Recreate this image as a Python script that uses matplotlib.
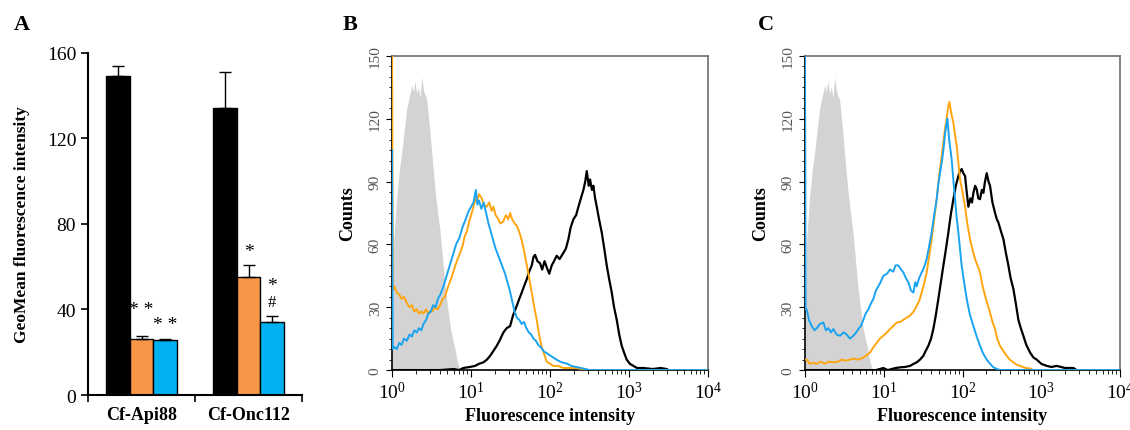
import numpy as np
import matplotlib
matplotlib.use('Agg')
from matplotlib import pyplot as plt
from matplotlib.ticker import MultipleLocator, LogLocator, NullFormatter

plt.rcParams['font.family'] = ['Liberation Serif', 'DejaVu Serif']
plt.rcParams['mathtext.fontset'] = 'stix'

# panel A: GeoMean fluorescence intensity
groups = ['Cf-Api88', 'Cf-Onc112']
bar_black = [149, 134]
bar_black_err = [5, 17]
bar_orange = [26, 55]
bar_orange_err = [1.5, 6]
bar_blue = [25.5, 34]
bar_blue_err = [0.6, 3]

# panel B / C histograms: log10 channel position, counts
gray_x = [0.0, 0.017, 0.059, 0.09, 0.122, 0.155, 0.186, 0.22, 0.25, 0.27, 0.29, 0.31, 0.333, 0.355, 0.375,
          0.40, 0.42, 0.439, 0.46, 0.481, 0.51, 0.544, 0.575, 0.608, 0.64, 0.671, 0.70, 0.734, 0.765, 0.797,
          0.82, 0.84, 0.86]
gray_y = [0, 60, 83, 95, 104, 115, 125, 131, 136, 133, 138, 132, 135, 130, 140,
          133, 131, 129, 121, 113, 100, 86, 76, 66, 53, 40, 31, 21, 15, 10,
          5, 2, 0]

b_orange_x = [0, 0.008, 0.03, 0.059, 0.09, 0.12, 0.15, 0.186, 0.22, 0.25, 0.28, 0.312, 0.34, 0.37, 0.397,
              0.43, 0.46, 0.481, 0.51, 0.54, 0.575, 0.608, 0.64, 0.67, 0.692, 0.72, 0.75, 0.776, 0.80, 0.83,
              0.861, 0.89, 0.92, 0.945, 0.97, 1.0, 1.03, 1.05, 1.071, 1.10, 1.135, 1.16, 1.198, 1.23, 1.26,
              1.283, 1.31, 1.346, 1.37, 1.409, 1.44, 1.47, 1.494, 1.52, 1.55, 1.578, 1.61, 1.641, 1.67, 1.705,
              1.735, 1.768, 1.80, 1.831, 1.86, 1.895, 1.93, 1.958, 2.0, 2.042, 2.1, 2.169, 2.25, 2.338, 2.4,
              2.464, 4.0]
b_orange_y = [150, 38, 40, 37, 36, 34, 35, 32, 30, 31, 28, 29, 27, 28, 27,
              29, 27, 28, 28, 30, 29, 31, 34, 35, 38, 41, 44, 47, 50, 53,
              56, 59, 64, 66, 70, 74, 78, 82, 80, 84, 82, 79, 78, 80, 76,
              78, 74, 72, 70, 71, 74, 72, 75, 72, 70, 69, 66, 62, 57, 50,
              44, 37, 30, 24, 17, 11, 7, 4, 3, 2, 2, 1, 1, 1, 0.5,
              0, 0]

b_blue_x = [0, 0.008, 0.03, 0.059, 0.09, 0.12, 0.15, 0.186, 0.22, 0.25, 0.28, 0.312, 0.34, 0.37, 0.397,
            0.43, 0.46, 0.49, 0.52, 0.55, 0.58, 0.61, 0.65, 0.69, 0.73, 0.77, 0.81, 0.85, 0.89, 0.93,
            0.97, 1.0, 1.03, 1.06, 1.08, 1.10, 1.13, 1.16, 1.19, 1.22, 1.25, 1.28, 1.31, 1.34, 1.37,
            1.40, 1.43, 1.46, 1.49, 1.52, 1.55, 1.58, 1.61, 1.64, 1.67, 1.70, 1.73, 1.76, 1.79, 1.82,
            1.85, 1.88, 1.92, 1.96, 2.0, 2.04, 2.08, 2.13, 2.17, 2.22, 2.27, 2.33, 2.39, 2.45, 2.5, 4.0]
b_blue_y = [105, 10, 11, 10, 13, 12, 15, 14, 17, 16, 19, 18, 20, 19, 22,
            24, 27, 28, 31, 30, 34, 36, 40, 45, 50, 55, 60, 63, 68, 72,
            76, 78, 80, 86, 79, 81, 77, 80, 75, 70, 66, 62, 58, 55, 52,
            49, 46, 42, 38, 33, 28, 25, 24, 22, 23, 20, 18, 17, 15, 14,
            12, 11, 9, 8, 7, 6, 5, 4, 3.5, 3, 2, 1.5, 1, 0.5, 0, 0]

b_black_x = [0, 0.6, 0.78, 0.85, 0.9, 0.987, 1.05, 1.1, 1.156, 1.2, 1.241, 1.28, 1.325, 1.36, 1.409,
             1.45, 1.494, 1.53, 1.578, 1.61, 1.641, 1.67, 1.705, 1.735, 1.768, 1.79, 1.81, 1.84, 1.873, 1.90,
             1.93, 1.958, 1.99, 2.021, 2.05, 2.084, 2.12, 2.169, 2.2, 2.232, 2.26, 2.295, 2.33, 2.359, 2.39,
             2.422, 2.445, 2.464, 2.49, 2.506, 2.53, 2.548, 2.57, 2.591, 2.62, 2.654, 2.69, 2.717, 2.75, 2.781,
             2.81, 2.844, 2.875, 2.907, 2.94, 2.97, 3.01, 3.055, 3.1, 3.181, 3.3, 3.4, 3.477, 3.5]
b_black_y = [0, 0, 0.5, 0, 1, 1.5, 2, 3, 3.7, 5, 6.8, 9, 11.6, 14, 18,
             20, 21, 26, 30.7, 34, 37, 40, 43.4, 47, 50, 54, 55, 52, 51, 48,
             52, 49, 46, 50, 52, 54.6, 53, 56, 58, 62.5, 68, 72, 74, 78, 82,
             86, 90, 95, 88, 91, 86, 88, 82, 78, 72, 65.7, 57, 50, 43, 37,
             30, 24, 17, 11.6, 8, 5, 3, 2, 1, 1, 0.5, 1, 0.5, 0]

c_blue_x = [0, 0.008, 0.021, 0.05, 0.085, 0.12, 0.148, 0.19, 0.233, 0.265, 0.296, 0.33, 0.36, 0.40, 0.444,
            0.49, 0.529, 0.57, 0.614, 0.65, 0.677, 0.71, 0.741, 0.77, 0.804, 0.84, 0.868, 0.90, 0.931, 0.96,
            0.995, 1.04, 1.079, 1.12, 1.15, 1.185, 1.22, 1.249, 1.28, 1.312, 1.345, 1.376, 1.40, 1.418, 1.45,
            1.481, 1.51, 1.545, 1.575, 1.608, 1.64, 1.672, 1.69, 1.714, 1.74, 1.76, 1.778, 1.795, 1.808, 1.83,
            1.862, 1.885, 1.905, 1.925, 1.947, 1.97, 1.989, 2.02, 2.053, 2.09, 2.138, 2.18, 2.222, 2.26, 2.307,
            2.35, 2.392, 2.44, 2.476, 4.0]
c_blue_y = [150, 29, 29, 24, 21, 19, 20, 22, 22.7, 19, 20, 18, 19.6, 17, 16.4,
            18, 17, 15, 16.4, 18, 19.6, 21, 24, 27, 29, 32, 34, 38, 40, 42,
            45, 46, 48, 47, 50, 50, 48, 46.6, 44, 42, 38, 37, 42, 40, 44,
            46.6, 49, 53, 59, 65.7, 74, 81.6, 88, 94, 100, 106, 113, 117, 120, 110,
            100.7, 90, 81.6, 73, 65.7, 57, 50, 42, 34, 27, 21, 16, 11.6, 8, 5,
            3, 1.3, 0.5, 0, 0]

c_orange_x = [0, 0.021, 0.06, 0.10, 0.148, 0.2, 0.25, 0.30, 0.36, 0.42, 0.47, 0.52, 0.571, 0.62, 0.68,
              0.741, 0.78, 0.825, 0.87, 0.91, 0.95, 0.995, 1.04, 1.079, 1.12, 1.164, 1.21, 1.249, 1.29, 1.333,
              1.38, 1.418, 1.45, 1.481, 1.51, 1.545, 1.575, 1.608, 1.64, 1.672, 1.70, 1.735, 1.76, 1.78, 1.799,
              1.815, 1.833, 1.86, 1.884, 1.905, 1.926, 1.95, 1.968, 2.0, 2.032, 2.06, 2.095, 2.13, 2.159, 2.19,
              2.222, 2.25, 2.286, 2.32, 2.349, 2.38, 2.413, 2.44, 2.476, 2.52, 2.561, 2.6, 2.646, 2.69, 2.73,
              2.8, 2.857, 2.899, 4.0]
c_orange_y = [5, 5, 3, 3.5, 3, 4, 3, 4, 3.7, 4, 5, 4.5, 5, 5.5, 5,
              6, 7, 8.4, 11, 13, 15, 16.4, 18, 19.6, 21, 22.7, 23, 24, 25, 26,
              28, 30.7, 33, 37, 41, 46.6, 54, 62.5, 72, 81.6, 92, 102, 110, 116, 120,
              125, 128, 122, 118, 112, 107, 98, 91, 85, 78, 70, 62.5, 57, 53, 50,
              46.6, 41, 35.5, 31, 27.5, 23, 19.6, 15, 11.6, 9, 6.8, 5, 3.7, 2.5, 2,
              1, 0.8, 0, 0]

c_black_x = [0, 0.9, 0.995, 1.05, 1.1, 1.15, 1.206, 1.27, 1.333, 1.38, 1.418, 1.46, 1.502, 1.53, 1.566,
             1.60, 1.629, 1.66, 1.693, 1.725, 1.757, 1.79, 1.82, 1.85, 1.884, 1.915, 1.947, 1.97, 1.989, 2.01,
             2.032, 2.05, 2.074, 2.1, 2.12, 2.138, 2.16, 2.18, 2.2, 2.222, 2.245, 2.265, 2.285, 2.307, 2.33,
             2.349, 2.38, 2.413, 2.435, 2.455, 2.49, 2.519, 2.55, 2.582, 2.61, 2.646, 2.68, 2.709, 2.74, 2.772,
             2.81, 2.857, 2.9, 2.942, 3.0, 3.069, 3.13, 3.196, 3.3, 3.407, 3.45]
c_black_y = [0, 0, 1, 0, 0.5, 1, 1.3, 1.5, 2, 3, 3.7, 5, 6.8, 9, 11.6,
             15, 19.6, 26, 34, 42, 50, 58, 65.7, 74, 81.6, 88, 92.7, 95, 96, 94,
             92.7, 86, 78, 82, 80, 84.6, 88, 86.4, 82, 81.6, 86, 84.6, 90, 94, 90,
             88, 80, 75, 72, 70.5, 66, 62.5, 56, 50, 44, 38.7, 31, 24, 20, 16.4,
             12, 8.4, 6, 5, 3, 2, 1.5, 2, 1, 1, 0]

c_orange = '#F79646'
c_blue = '#00B0F0'
h_orange = '#FFA510'
h_blue = '#1AA3F0'

fig = plt.figure(figsize=(11.3, 4.31), dpi=100)

# ---------- A ----------
ax = fig.add_axes([0.0779, 0.0812, 0.1894, 0.794])
w = 0.22
xs = np.array([0.5, 1.5])
ekw = dict(elinewidth=1, capsize=4, capthick=1, ecolor='black')
ax.bar(xs - w, bar_black, w, color='black', edgecolor='black', lw=1,
       yerr=[[0, 0], bar_black_err], error_kw=ekw)
ax.bar(xs, bar_orange, w, color=c_orange, edgecolor='black', lw=1,
       yerr=[[0, 0], bar_orange_err], error_kw=ekw)
ax.bar(xs + w, bar_blue, w, color=c_blue, edgecolor='black', lw=1,
       yerr=[[0, 0], bar_blue_err], error_kw=ekw)
ax.set_xlim(0, 2)
ax.set_ylim(0, 160)
ax.set_yticks([0, 40, 80, 120, 160])
ax.set_xticks([0, 1, 2])
ax.set_xticklabels([])
ax.set_xticks(xs, minor=True)
ax.set_xticklabels(groups, minor=True, fontweight='bold', fontsize=13)
ax.tick_params(axis='x', which='minor', length=0, pad=8)
ax.tick_params(axis='x', which='major', length=5, width=1.2)
ax.tick_params(axis='y', length=5, width=1.2, labelsize=14)
for s in ['top', 'right']:
    ax.spines[s].set_visible(False)
for s in ['left', 'bottom']:
    ax.spines[s].set_linewidth(1.5)
ax.set_ylabel('GeoMean fluorescence intensity', fontweight='bold', fontsize=12.5, labelpad=12)
star_kw = dict(ha='center', va='center', fontsize=14)
ax.text(xs[0], 40, '* *', **star_kw)
ax.text(xs[0] + w, 33, '* *', **star_kw)
ax.text(xs[1], 67, '*', **star_kw)
ax.text(xs[1] + w, 51, '*', **star_kw)
ax.text(xs[1] + w, 43.5, '#', ha='center', va='center', fontsize=12)
fig.text(0.012, 0.93, 'A', fontweight='bold', fontsize=16)


def flow_panel(rect, letter, lx, curves):
    ax = fig.add_axes(rect)
    ax.fill_between(10 ** np.array(gray_x), gray_y, color='#D3D3D3', lw=0)
    for x, y, col, lw in curves:
        ax.plot(10 ** np.array(x), y, color=col, lw=lw, zorder=3)
    ax.set_xscale('log')
    ax.set_xlim(1, 1e4)
    ax.set_ylim(0, 150)
    ax.set_yticks([0, 30, 60, 90, 120, 150])
    ax.yaxis.set_minor_locator(MultipleLocator(5))
    ax.xaxis.set_major_locator(LogLocator(base=10, numticks=10))
    ax.xaxis.set_minor_locator(LogLocator(base=10, subs=np.arange(2, 10), numticks=20))
    ax.xaxis.set_minor_formatter(NullFormatter())
    ax.tick_params(axis='y', which='major', length=4, labelsize=11, labelcolor='#555555')
    ax.tick_params(axis='y', which='minor', length=2)
    for lab in ax.get_yticklabels():
        lab.set_rotation(90)
        lab.set_va('center')
    ax.tick_params(axis='x', which='major', length=5, labelsize=14, pad=3)
    ax.tick_params(axis='x', which='minor', length=3)
    for s in ['top', 'right']:
        ax.spines[s].set_color('#6E6E6E')
        ax.spines[s].set_linewidth(1.2)
    for s in ['left', 'bottom']:
        ax.spines[s].set_linewidth(1.2)
    ax.set_ylabel('Counts', fontweight='bold', fontsize=13, labelpad=9)
    ax.set_xlabel('Fluorescence intensity', fontweight='bold', fontsize=13, labelpad=3)
    fig.text(lx, 0.93, letter, fontweight='bold', fontsize=16)


flow_panel([0.347, 0.139, 0.2796, 0.729], 'B', 0.3035,
           [(b_black_x, b_black_y, 'black', 1.6),
            (b_orange_x, b_orange_y, h_orange, 1.4),
            (b_blue_x, b_blue_y, h_blue, 1.4)])
flow_panel([0.7124, 0.139, 0.2788, 0.729], 'C', 0.6705,
           [(c_black_x, c_black_y, 'black', 1.6),
            (c_orange_x, c_orange_y, h_orange, 1.4),
            (c_blue_x, c_blue_y, h_blue, 1.4)])

plt.savefig('out.png', dpi=100)
